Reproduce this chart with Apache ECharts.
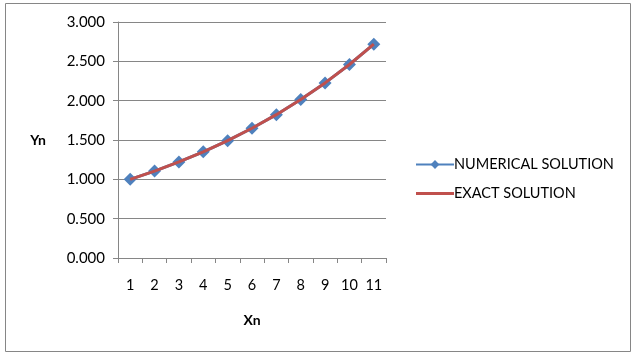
<!DOCTYPE html>
<html>
<head>
<meta charset="utf-8">
<script src="https://cdn.jsdelivr.net/npm/echarts@6/dist/echarts.min.js"></script>
<style>
html,body{margin:0;padding:0;background:#fff;}
#main{width:637px;height:356px;}
</style>
</head>
<body>
<div id="main"></div>
<script>
const categories = ['1','2','3','4','5','6','7','8','9','10','11'];
const numerical = [1.000, 1.105, 1.221, 1.350, 1.492, 1.649, 1.822, 2.014, 2.226, 2.460, 2.718];
const exact = [1.000, 1.105, 1.221, 1.350, 1.492, 1.649, 1.822, 2.014, 2.226, 2.460, 2.718];
const yTicks = [0, 0.5, 1, 1.5, 2, 2.5, 3];

const FONT = 'Lato';
const chart = echarts.init(document.getElementById('main'), null, {renderer: 'canvas'});
chart.setOption({
  animation: false,
  backgroundColor: '#fff',
  textStyle: {fontFamily: FONT},
  graphic: [{
    type: 'rect',
    shape: {x: 5.5, y: 3.5, width: 625, height: 348},
    style: {fill: 'none', stroke: '#868686', lineWidth: 1},
    silent: true
  }],
  grid: {left: 118, right: 251, top: 22, bottom: 98},
  legend: {
    orient: 'vertical',
    left: 410,
    top: 152,
    itemWidth: 38,
    itemHeight: 11,
    itemGap: 14,
    textStyle: {fontFamily: FONT, fontSize: 14.5, color: '#000', padding: [0, 0, 0, -5]},
    data: [
      {name: 'NUMERICAL SOLUTION'},
      {name: 'EXACT SOLUTION', icon: 'path://M0,0h38v3h-38z', itemStyle: {color: '#C0504D'}}
    ]
  },
  xAxis: {
    type: 'category',
    data: categories,
    boundaryGap: true,
    name: 'Xn',
    nameLocation: 'middle',
    nameGap: 55,
    nameTextStyle: {fontFamily: FONT, fontSize: 14, fontWeight: 'bold', color: '#000'},
    axisLine: {lineStyle: {color: '#868686', width: 1}},
    axisTick: {show: true, length: 5, lineStyle: {color: '#868686'}},
    axisLabel: {fontFamily: FONT, fontSize: 14.5, color: '#000', margin: 20},
    splitLine: {show: false}
  },
  yAxis: {
    type: 'value',
    min: yTicks[0],
    max: yTicks[yTicks.length - 1],
    interval: 0.5,
    name: 'Yn',
    nameLocation: 'middle',
    nameRotate: 0,
    nameGap: 72,
    nameTextStyle: {fontFamily: FONT, fontSize: 14, fontWeight: 'bold', color: '#000'},
    axisLine: {show: true, lineStyle: {color: '#868686', width: 1}},
    axisTick: {show: true, length: 5, lineStyle: {color: '#868686'}},
    axisLabel: {fontFamily: FONT, fontSize: 15, color: '#000', margin: 13,
      formatter: v => v.toFixed(3)},
    splitLine: {show: true, lineStyle: {color: '#868686', width: 1}}
  },
  series: [
    {
      name: 'NUMERICAL SOLUTION',
      type: 'line',
      data: numerical,
      symbol: 'diamond',
      symbolSize: 13,
      showAllSymbol: true,
      lineStyle: {color: '#4F81BD', width: 3},
      itemStyle: {color: '#4F81BD'},
      z: 2
    },
    {
      name: 'EXACT SOLUTION',
      type: 'line',
      data: exact,
      symbol: 'none',
      lineStyle: {color: '#C0504D', width: 3},
      itemStyle: {color: '#C0504D'},
      z: 3
    }
  ]
});
</script>
</body>
</html>
